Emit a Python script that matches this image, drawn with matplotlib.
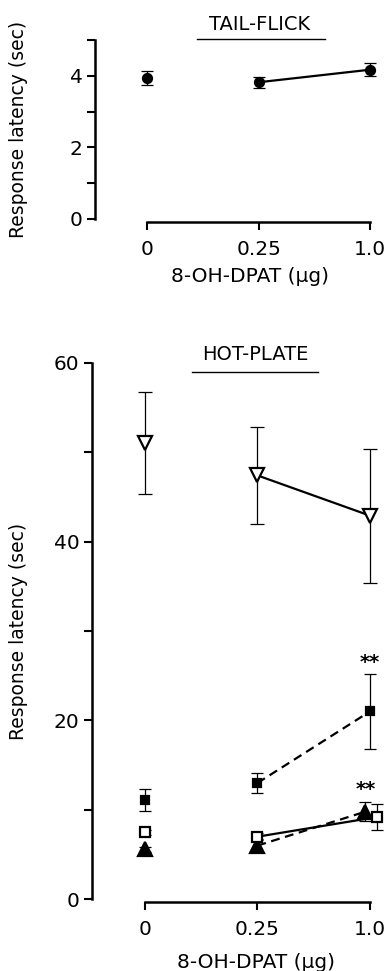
import numpy as np
import matplotlib
matplotlib.use("Agg")
import matplotlib.pyplot as plt
from matplotlib.lines import Line2D

# data
doses = ["0", "0.25", "1.0"]

# tail-flick (sec)
tf_mean = [3.93, 3.82, 4.17]
tf_err = [0.20, 0.15, 0.18]

# hot-plate (sec)
hp_open_tri = [51.0, 47.4, 42.9]
hp_open_tri_err = [5.7, 5.4, 7.5]
hp_fill_sq = [11.1, 13.0, 21.0]
hp_fill_sq_err = [1.2, 1.1, 4.2]
hp_open_sq = [7.5, 7.0, 9.2]
hp_open_sq_err = [0.3, 0.4, 1.5]
hp_fill_tri = [5.6, 6.0, 9.8]
hp_fill_tri_err = [0.3, 0.7, 1.1]

plt.rcParams["font.family"] = "DejaVu Sans"
W, H = 385, 971
fig = plt.figure(figsize=(W / 100, H / 100), dpi=100)


def style_axes(ax, yticks, yminor, ylim):
    ax.set_ylim(*ylim)
    ax.set_xlim(-0.47, 2.09)
    for s in ["top", "right"]:
        ax.spines[s].set_visible(False)
    ax.spines["left"].set_linewidth(1.8)
    ax.spines["bottom"].set_linewidth(1.8)
    ax.spines["bottom"].set_bounds(0, 2)
    ax.spines["bottom"].set_position(("outward", 2))
    ax.set_xticks(range(len(doses)))
    ax.set_xticklabels(doses)
    ax.set_yticks(yticks)
    ax.set_yticks(yminor, minor=True)
    ax.tick_params(axis="both", which="both", width=1.5, length=6, labelsize=14.5,
                   direction="out")
    ax.tick_params(axis="x", pad=7)
    ax.tick_params(axis="y", pad=3)
    ax.set_ylabel("Response latency (sec)", fontsize=13.5)
    ax.set_xlabel("8-OH-DPAT (µg)", fontsize=14.5)
    ax.patch.set_alpha(0)


def series(ax, x, y, err, marker, face, ms, ls, cap=4):
    ax.errorbar(x, y, yerr=err, fmt="none", ecolor="black", elinewidth=0.9,
                capsize=cap, capthick=0.9, zorder=2, clip_on=False)
    ax.plot(x[1:], y[1:], color="black", lw=1.6, linestyle=ls, zorder=3)
    ax.plot(x, y, linestyle="none", marker=marker, markersize=ms,
            markerfacecolor=face, markeredgecolor="black", markeredgewidth=1.6,
            zorder=4, clip_on=False)


def title(text, xc, yc, x0, x1, yl):
    fig.text(xc / W, 1 - yc / H, text, fontsize=14, ha="center", va="center")
    fig.add_artist(Line2D([x0 / W, x1 / W], [1 - yl / H, 1 - yl / H],
                          color="black", lw=1.0, transform=fig.transFigure))


x = np.arange(len(doses), dtype=float)

# ---- top panel: tail-flick
ax1 = fig.add_axes([95 / W, 1 - 219 / H, 285 / W, 179 / H])
style_axes(ax1, [0, 2, 4], [1, 3, 5], (0, 5))
series(ax1, x, tf_mean, tf_err, "o", "black", 6.5, "-", cap=4)
ax1.yaxis.set_label_coords(-0.235, 0.5)
ax1.xaxis.set_label_coords(0.545, -0.27)
title("TAIL-FLICK", 260, 24, 197, 325, 39)

# ---- bottom panel: hot-plate
ax2 = fig.add_axes([92 / W, 1 - 899.3 / H, 288 / W, 536.6 / H])
style_axes(ax2, [0, 20, 40, 60], [10, 30, 50], (0, 60))
series(ax2, x, hp_open_tri, hp_open_tri_err, "v", "white", 10.5, "-", cap=5)
series(ax2, x, hp_fill_sq, hp_fill_sq_err, "s", "black", 6, (0, (4, 2.5)), cap=4)
series(ax2, x + np.array([0, 0, -0.04]), hp_fill_tri, hp_fill_tri_err, "^",
       "black", 10.5, (0, (4, 2.5)), cap=4)
series(ax2, x + np.array([0, 0, 0.065]), hp_open_sq, hp_open_sq_err, "s",
       "white", 7, "-", cap=4)
ax2.text(2, 26.5, "**", fontsize=14, fontweight="bold", ha="center", va="center")
ax2.text(1.96, 12.3, "**", fontsize=14, fontweight="bold", ha="center", va="center")
ax2.yaxis.set_label_coords(-0.222, 0.5)
ax2.xaxis.set_label_coords(0.57, -0.1)
title("HOT-PLATE", 255, 355, 192, 318, 372)

fig.savefig("out.png", dpi=100)
